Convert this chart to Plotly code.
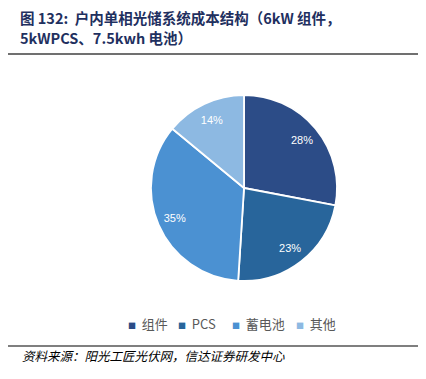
import plotly.graph_objects as go

labels = ["组件", "PCS", "蓄电池", "其他"]
values = [28, 23, 35, 14]
colors = ["#2C4C87", "#28659B", "#4B91D2", "#8DB9E2"]

title_line1 = "图 132:  户内单相光储系统成本结构（6kW 组件，"
title_line2 = "5kWPCS、7.5kwh 电池）"
source_text = "资料来源：阳光工匠光伏网，信达证券研发中心"

# page body has an 8px margin: figure is sized to fit inside the window
OFF = 8
W, H = 426 - 2 * OFF, 379 - 2 * OFF


def px(x):
    return (x - OFF) / W


def py(y):
    return (H - (y - OFF)) / H


cx, cy, r = 244, 188, 93
dom = dict(x=[px(cx - r), px(cx + r)], y=[py(cy + r), py(cy - r)])

fig = go.Figure()
fig.add_trace(go.Pie(
    labels=labels, values=values, sort=False, direction="clockwise", rotation=0,
    marker=dict(colors=colors, line=dict(color="white", width=1.8)),
    textinfo="none", domain=dom, showlegend=False, hoverinfo="label+percent",
))
# transparent ring carrying the percentage labels near the outer edge
fig.add_trace(go.Pie(
    labels=labels, values=values, sort=False, direction="clockwise", rotation=0,
    hole=0.62,
    marker=dict(colors=["rgba(0,0,0,0)"] * len(labels), line=dict(width=0)),
    texttemplate="%{percent:.0%}", textposition="inside",
    insidetextorientation="horizontal",
    textfont=dict(color="white", size=11, family="Liberation Sans, Arial"),
    domain=dom, showlegend=False, hoverinfo="skip",
))

# legend row (compact, as in the reference)
legend_x = [126, 176, 230, 294]
annotations = []
for lab, col, lx in zip(labels, colors, legend_x):
    annotations.append(dict(
        text='<span style="color:%s;font-size:8px">■</span>&nbsp;&nbsp;%s' % (col, lab),
        xref="paper", yref="paper", x=px(lx), y=py(323), xanchor="left", yanchor="middle",
        showarrow=False, font=dict(size=13, color="#595959", family="Noto Sans CJK SC"),
    ))

annotations += [
    dict(text="<b>" + title_line1 + "</b>", xref="paper", yref="paper",
         x=px(18), y=py(18), xanchor="left", yanchor="middle", align="left", showarrow=False,
         font=dict(size=14.5, color="#1F3060", family="Noto Sans CJK SC")),
    dict(text="<b>" + title_line2 + "</b>", xref="paper", yref="paper",
         x=px(18), y=py(38), xanchor="left", yanchor="middle", align="left", showarrow=False,
         font=dict(size=14.5, color="#1F3060", family="Noto Sans CJK SC")),
    dict(text="<i>" + source_text + "</i>", xref="paper", yref="paper",
         x=px(20), y=py(355), xanchor="left", yanchor="middle", showarrow=False,
         font=dict(size=12.5, color="#000000", family="Noto Sans CJK SC")),
]

fig.update_layout(
    width=W, height=H, margin=dict(l=0, r=0, t=0, b=0),
    paper_bgcolor="white", plot_bgcolor="white",
    showlegend=False,
    font=dict(family="Noto Sans CJK SC"),
    shapes=[
        dict(type="line", xref="paper", yref="paper", x0=px(8), x1=px(420),
             y0=py(54), y1=py(54), line=dict(color="#404040", width=1.5)),
        dict(type="line", xref="paper", yref="paper", x0=px(8), x1=px(420),
             y0=py(346), y1=py(346), line=dict(color="#000000", width=1.2)),
    ],
    annotations=annotations,
)

fig.write_html("out.html")
